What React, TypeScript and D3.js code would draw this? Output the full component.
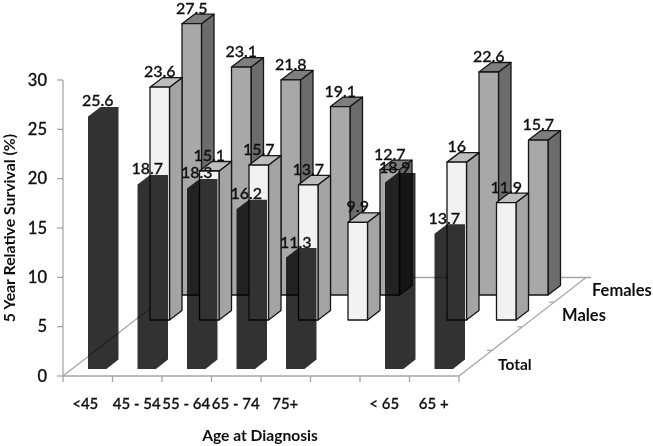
import React from "react";
import * as d3 from "d3";

const categories = ["<45", "45 - 54", "55 - 64", "65 - 74", "75+", "", "< 65", "65 +"];
const totalValues: (number | null)[] = [25.6, 18.7, 18.3, 16.2, 11.3, null, 18.9, 13.7];
const maleValues: (number | null)[] = [23.6, 15.1, 15.7, 13.7, 9.9, null, 16, 11.9];
const femaleValues: (number | null)[] = [27.5, 23.1, 21.8, 19.1, 12.7, null, 22.6, 15.7];
const yTicks = [0, 5, 10, 15, 20, 25, 30];
const depthTicks = [0.26, 0.5, 0.75];

const FONT = "Lato, 'Open Sans', sans-serif";
const INK = "#141414";
const AXIS = "#a6a6a6";

const x = d3.scaleBand<string>().domain(categories.map((c, i) => c || `gap${i}`)).range([63, 459]);
const yAxis = d3.scaleLinear().domain([0, 30]).range([376, 80]);
const h = (v: number) => yAxis(0) - yAxis(v);
const key = (i: number) => categories[i] || `gap${i}`;

const BAR_W = 19.5;
const DX = 12.5;
const DY = 9.5;

const poly = d3.line<[number, number]>().x((d) => d[0]).y((d) => d[1]);
const closed = (p: [number, number][]) => (poly(p) as string) + "Z";

function Bar3D({ left, base, value, front, side, top }: { left: number; base: number; value: number; front: string; side: string; top: string }) {
  const t = base - h(value);
  const r = left + BAR_W;
  return (
    <g stroke={INK} strokeWidth={1.3} strokeLinejoin="round">
      <path d={closed([[r, t], [r + DX, t - DY], [r + DX, base - DY], [r, base]])} fill={side} />
      <path d={closed([[left, t], [left + DX, t - DY], [r + DX, t - DY], [r, t]])} fill={top} />
      <rect x={left} y={t} width={BAR_W} height={base - t} fill={front} />
    </g>
  );
}

function DarkBar({ left, base, value }: { left: number; base: number; value: number }) {
  const t = base - h(value);
  const r = left + BAR_W;
  const pts: [number, number][] = [
    [left, t], [left + DX, t - DY], [r + DX - 1.5, t - DY], [r + DX - 1.5, base - DY], [r - 1, base], [left, base],
  ];
  return <path d={closed(pts)} fill="#000" fillOpacity={0.8} />;
}

function Label({ left, base, value }: { left: number; base: number; value: number }) {
  return (
    <text x={left + BAR_W / 2} y={base - h(value) - 10} textAnchor="middle" fontSize={16} fill="#111" stroke="#111" strokeWidth={0.3} fontFamily={FONT} fontWeight={500}>
      {value}
    </text>
  );
}

const series = [
  { values: femaleValues, offset: 119, base: 295, front: "#a8a8a8", side: "#6c6c6c", top: "#7e7e7e" },
  { values: maleValues, offset: 87, base: 320, front: "#f2f2f2", side: "#a4a4a4", top: "#bdbdbd" },
];
const totalOffset = 25;
const totalBase = 369;

const floorBack = 277.5;
const floorDx = 127;

export default function App() {
  const bw = x.bandwidth();
  const y0 = yAxis(0);
  return (
    <svg width={653} height={446} style={{ position: "absolute", left: 0, top: 0, background: "#fff" }}>
      <defs>
        <filter id="soft" x="0" y="0" width="100%" height="100%">
          <feGaussianBlur stdDeviation="0.35" />
        </filter>
      </defs>
      <g filter="url(#soft)">
        <rect x={0} y={0} width={653} height={446} fill="#fff" />
        <g stroke={AXIS} strokeWidth={1.3} fill="none">
          <line x1={63} y1={y0} x2={63 + floorDx} y2={floorBack} />
          <line x1={63 + floorDx} y1={floorBack} x2={459 + floorDx + 5} y2={floorBack} />
          <line x1={459} y1={y0} x2={459 + floorDx} y2={floorBack} />
          <line x1={63} y1={yAxis(30)} x2={63} y2={y0} />
          <line x1={63} y1={y0} x2={459} y2={y0} />
          {yTicks.map((t) => <line key={t} x1={57} x2={63} y1={yAxis(t)} y2={yAxis(t)} />)}
          {d3.range(categories.length + 1).map((i) => (
            <line key={i} x1={63 + i * bw} x2={63 + i * bw} y1={y0} y2={y0 + 6} />
          ))}
          {depthTicks.map((f, i) => (
            <line key={i} x1={459 + f * floorDx - 5} x2={459 + f * floorDx} y1={y0 - f * (y0 - floorBack)} y2={y0 - f * (y0 - floorBack)} />
          ))}
        </g>

        {series.map((s, si) => (
          <g key={si}>
            {s.values.map((v, i) =>
              v == null ? null : (
                <Bar3D key={i} left={(x(key(i)) as number) + s.offset} base={s.base} value={v} front={s.front} side={s.side} top={s.top} />
              )
            )}
          </g>
        ))}
        {totalValues.map((v, i) =>
          v == null ? null : <DarkBar key={i} left={(x(key(i)) as number) + totalOffset} base={totalBase} value={v} />
        )}

        {series.map((s, si) => (
          <g key={si}>
            {s.values.map((v, i) =>
              v == null ? null : <Label key={i} left={(x(key(i)) as number) + s.offset} base={s.base} value={v} />
            )}
          </g>
        ))}
        {totalValues.map((v, i) =>
          v == null ? null : <Label key={i} left={(x(key(i)) as number) + totalOffset} base={totalBase} value={v} />
        )}

        <g fontFamily={FONT} fill="#111" fontSize={16} fontWeight={700}>
          {yTicks.map((t) => (
            <text key={t} x={47} y={yAxis(t) + 5.5} textAnchor="end" fontSize={16.5} fontWeight={500} stroke="#111" strokeWidth={0.3}>{t}</text>
          ))}
          {categories.map((c, i) => (
            <text key={i} x={(x(key(i)) as number) + bw / 2 - (i === 0 ? 2.5 : 0.5)} y={409} textAnchor="middle" fontSize={15} fontWeight={500} stroke="#111" strokeWidth={0.3}>{c}</text>
          ))}
          <text transform="translate(15,228) rotate(-90)" textAnchor="middle" fontSize={15.8}>5 Year Relative Survival (%)</text>
          <text x={260} y={441} textAnchor="middle" fontSize={15.6}>Age at Diagnosis</text>
          <text x={592} y={296} fontSize={16.5}>Females</text>
          <text x={562} y={321} fontSize={16.5}>Males</text>
          <text x={498} y={370} fontSize={15.5}>Total</text>
        </g>
      </g>
    </svg>
  );
}
